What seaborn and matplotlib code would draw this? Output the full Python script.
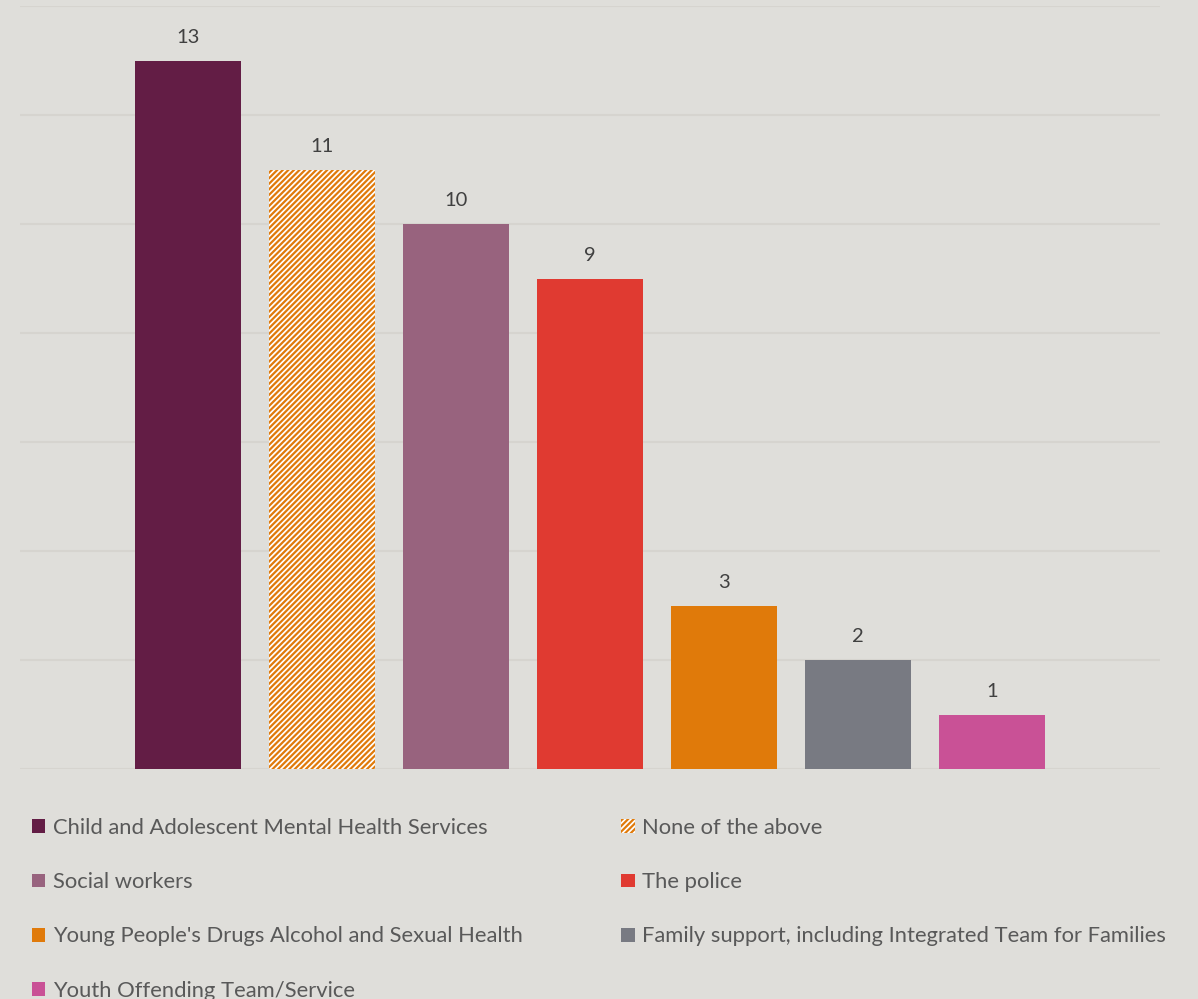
import matplotlib
matplotlib.use("Agg")
import matplotlib.pyplot as plt
from matplotlib.patches import Patch
import seaborn as sns
import pandas as pd

# --- data ---
categories = [
    "Child and Adolescent Mental Health Services",
    "None of the above",
    "Social workers",
    "The police",
    "Young People's Drugs Alcohol and Sexual Health",
    "Family support, including Integrated Team for Families",
    "Youth Offending Team/Service",
]
counts = [13, 11, 10, 9, 3, 2, 1]
colors = ["#631d45", "#e07a0a", "#98637e", "#e03a31", "#e07a0a", "#787a82", "#c95196"]
hatched = "None of the above"

BG = "#dfdeda"
GRID = "#d6d4cf"
TEXT = "#595959"

sns.set_theme(style="white")
plt.rcParams["font.family"] = ["Lato", "DejaVu Sans"]
plt.rcParams["hatch.linewidth"] = 1.25

df = pd.DataFrame({"service": categories, "count": counts})

fig = plt.figure(figsize=(11.98, 9.99), dpi=100, facecolor=BG)
ax = fig.add_axes([20 / 1198, 1 - 769 / 999, 1140 / 1198, 763 / 999])
ax.set_facecolor(BG)

sns.barplot(data=df, x="service", y="count", hue="service", palette=colors,
            order=categories, hue_order=categories, width=0.79,
            saturation=1, legend=False, ax=ax)

for bar, cat in zip(ax.patches, categories):
    bar.set_linewidth(0)
    if cat == hatched:
        bar.set_edgecolor("white")
        bar.set_hatch("//////")

for cont in ax.containers:
    ax.bar_label(cont, padding=10.5, fontsize=14.5, color="#404040")

ax.set_xlim(-1.25, 7.25)
ax.set_ylim(0, 14)
ax.set_yticks(range(0, 15, 2))
ax.yaxis.grid(True, color=GRID, linewidth=1.5)
ax.set_axisbelow(True)
ax.set_xticks([])
ax.set_yticklabels([])
ax.tick_params(left=False, bottom=False)
ax.set_xlabel("")
ax.set_ylabel("")
sns.despine(ax=ax, left=True, bottom=True)

# legend: row-major order as in the reference (matplotlib fills by column)
handles = []
for cat, col in zip(categories, colors):
    if cat == hatched:
        handles.append(Patch(facecolor=col, edgecolor="white", hatch="//////", linewidth=0, label=cat))
    else:
        handles.append(Patch(facecolor=col, linewidth=0, label=cat))
order = [0, 2, 4, 6, 1, 3, 5]
leg = fig.legend([handles[i] for i in order], [categories[i] for i in order],
                 ncol=2, loc="upper left", bbox_to_anchor=(32 / 1198, 1 - 818 / 999),
                 frameon=False, fontsize=15.8, handlelength=0.6, handleheight=0.6,
                 handletextpad=0.35, labelspacing=1.56, columnspacing=4.5,
                 borderaxespad=0, borderpad=0)
for t in leg.get_texts():
    t.set_color(TEXT)

fig.savefig("out.png", dpi=100, facecolor=BG)
